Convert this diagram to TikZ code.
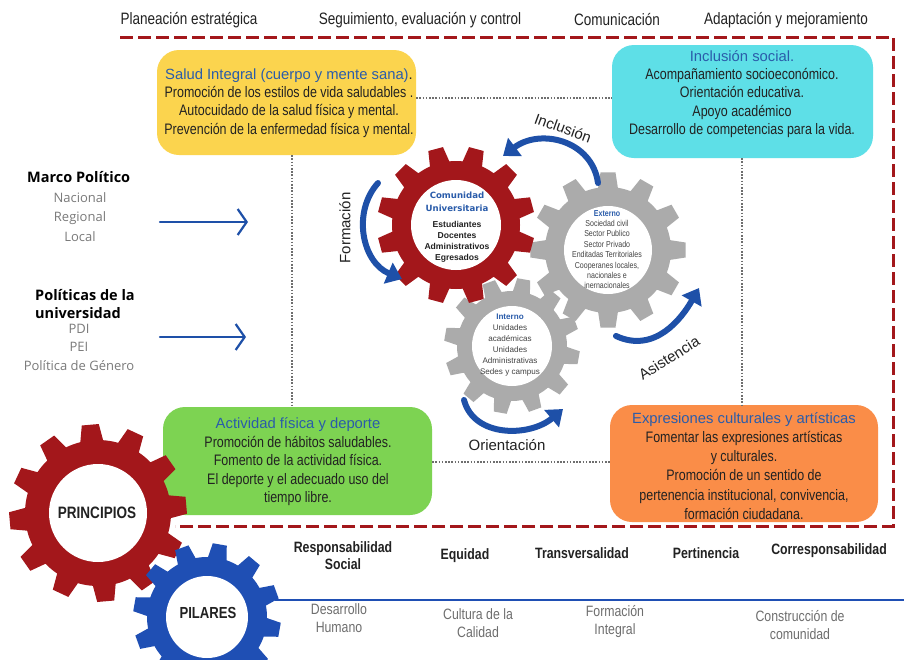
\documentclass[tikz,border=0pt]{standalone}
\usepackage{fontspec}
\setmainfont{Liberation Sans}
\newfontfamily\narrowfont[FakeStretch=0.82]{Liberation Sans}
\newfontfamily\opensans{Open Sans}
\newfontfamily\dejavu{DejaVu Sans}
\usetikzlibrary{arrows.meta}
\definecolor{dred}{HTML}{A3171B}
\definecolor{ggray}{HTML}{ABABAB}
\definecolor{gblue}{HTML}{1F4FB4}
\definecolor{ablue}{HTML}{1E50A8}
\definecolor{tblue}{HTML}{2A5CAA}
\definecolor{dotgray}{HTML}{6E6E6E}
\definecolor{byellow}{HTML}{FBD44E}
\definecolor{bcyan}{HTML}{5EDFE7}
\definecolor{bgreen}{HTML}{7DD352}
\definecolor{borange}{HTML}{FA8D48}
\definecolor{txtgray}{HTML}{7A7A7A}
\definecolor{txtdark}{HTML}{222222}
% cx, cy, N, Ro, Rb, Rw, offset, colour
\newcommand\drawgear[8]{%
  \begin{scope}[shift={(#1,#2)}]
    \pgfmathsetmacro\gStep{360/#3}
    \pgfmathsetmacro\gTop{5.5}
    \pgfmathsetmacro\gBase{9}
    \fill[#8] ({#7-\gBase}:#5)
      \foreach \k in {1,...,#3}{
        -- ({(\k-1)*\gStep+#7-\gBase}:#5)
        -- ({(\k-1)*\gStep+#7-\gTop}:#4)
        -- ({(\k-1)*\gStep+#7+\gTop}:#4)
        -- ({(\k-1)*\gStep+#7+\gBase}:#5)
        arc[start angle={(\k-1)*\gStep+#7+\gBase}, end angle={\k*\gStep+#7-\gBase}, radius=#5]
      } -- cycle;
    \fill[white] (0,0) circle[radius=#6];
  \end{scope}}
\newcommand\boxtitle[1]{{\normalfont\fontsize{14.8}{18.3}\selectfont\color{tblue}#1}}
\tikzset{
  reddash/.style={draw=dred, line width=3pt, dash pattern=on 13pt off 5pt},
  dotline/.style={draw=dotgray, line width=2.2pt, dash pattern=on 1.6pt off 1.6pt},
  rbox/.style={rounded corners=22pt, inner sep=0pt},
  boxtxt/.style={align=center, inner sep=0pt, text=txtdark, font=\narrowfont\fontsize{15.2}{18.3}\selectfont},
  hdr/.style={inner sep=0pt, text=txtdark, font=\narrowfont\fontsize{16.5}{18}\selectfont},
  boldrow/.style={align=center, inner sep=0pt, text=txtdark, font=\narrowfont\bfseries\fontsize{15}{17}\selectfont},
  grayrow/.style={align=center, inner sep=0pt, text=txtgray!90!black, font=\narrowfont\fontsize{15}{18}\selectfont},
  bluearrow/.style={draw=ablue, line width=6pt, line cap=round, -{Triangle[length=15pt,width=22pt]}},
  handarrow/.style={draw=ablue, line width=2.2pt, line cap=round, -{Straight Barb[length=9pt,width=26pt,line width=2.2pt]}},
  arrlabel/.style={inner sep=0pt, text=txtdark, font=\fontsize{15}{17}\selectfont},
  leftbold/.style={inner sep=0pt, align=left, text=black, font=\opensans\bfseries\fontsize{14.5}{18}\selectfont},
  leftgray/.style={inner sep=0pt, align=center, text=txtgray, font=\opensans\fontsize{13}{19.5}\selectfont},
}
\begin{document}
\begin{tikzpicture}[x=1pt,y=-1pt]
\useasboundingbox (0,0) rectangle (904,659);
\fill[white] (0,0) rectangle (904,659);

% header
\node[hdr] (h1) at (189,20) {Planeación estratégica};
\node[hdr] (h2) at (420,20) {Seguimiento, evaluación y control};
\node[hdr] (h3) at (617,20) {Comunicación};
\node[hdr] (h4) at (786,20) {Adaptación y mejoramiento};

% red dashed frame
\coordinate (d1) at (120,37);
\coordinate (d2) at (893,37);
\coordinate (d3) at (893,526);
\coordinate (d4) at (175,526);
\draw[reddash] (d1) -- (d2) -- (d3) -- (d4);

% boxes
\node[rbox, fill=byellow, minimum width=259pt, minimum height=105pt] (yb) at (286.5,102.5) {};
\node[rbox, fill=bcyan, minimum width=261pt, minimum height=113pt] (cb) at (742.5,101.5) {};
\node[rbox, fill=bgreen, minimum width=269pt, minimum height=108pt] (gb) at (297.5,461) {};
\node[rbox, fill=borange, minimum width=268pt, minimum height=117pt] (ob) at (744,463.5) {};

% dotted connections
\draw[dotline] (yb.east |- 0,98) -- (cb.west |- 0,98);
\draw[dotline] (gb.east |- 0,462) -- (ob.west |- 0,462);
\draw[dotline] (yb.south -| 292,0) -- (gb.north -| 292,0);
\draw[dotline] (cb.south -| 742,0) -- (ob.north -| 742,0);

% box texts
\node[boxtxt] (yt) at (289,103) {\boxtitle{Salud Integral (cuerpo y mente sana)}{\normalfont\fontsize{14.8}{18.3}\selectfont.}\\Promoción de los estilos de vida saludables .\\Autocuidado de la salud física y mental.\\Prevención de la enfermedad física y mental.};
\node[boxtxt] (ct) at (742,94) {\boxtitle{Inclusión social.}\\Acompañamiento socioeconómico.\\Orientación educativa.\\Apoyo académico\\Desarrollo de competencias para la vida.};
\node[boxtxt, font=\narrowfont\fontsize{15.2}{18.5}\selectfont] (gt) at (298,462) {\boxtitle{Actividad física y deporte}\\Promoción de hábitos saludables.\\Fomento de la actividad física.\\El deporte y el adecuado uso del\\tiempo libre.};
\node[boxtxt, font=\narrowfont\fontsize{15.2}{19.2}\selectfont] (ot) at (744,466) {\boxtitle{Expresiones culturales y artísticas}\\Fomentar las expresiones artísticas\\y culturales.\\Promoción de un sentido de\\pertenencia institucional, convivencia,\\formación ciudadana.};

% central gears
\drawgear{608}{250}{12}{78}{63}{44}{0}{ggray}
\drawgear{512}{346}{12}{68}{55}{40}{10}{ggray}
\drawgear{456}{225}{12}{79}{64}{45}{15}{dred}

\node[align=center, inner sep=0pt, text=tblue, font=\dejavu\bfseries\fontsize{8.6}{13}\selectfont] (cu) at (457,201.5) {Comunidad\\Universitaria};
\node[align=center, inner sep=0pt, text=txtdark, font=\bfseries\fontsize{8.6}{11}\selectfont] (cul) at (457,242) {Estudiantes\\Docentes\\Administrativos\\Egresados};
\node[align=center, inner sep=0pt, text=txtdark!85, font=\narrowfont\fontsize{8.6}{10.4}\selectfont] (ext) at (607,249.5) {{\bfseries\color{tblue}Externo}\\Sociedad civil\\Sector Publico\\Sector Privado\\Enditadas Territoriales\\Cooperanes locales,\\nacionales e\\inernacionales};
\node[align=center, inner sep=0pt, text=txtdark!85, font=\fontsize{8.1}{11}\selectfont] (int) at (510,345.5) {{\bfseries\color{tblue}Interno}\\Unidades\\académicas\\Unidades\\Administrativas\\Sedes y campus};

% curved arrows
\coordinate (ia) at (598,183);
\coordinate (ib) at (503,156);
\draw[bluearrow] (ia) .. controls (592,140) and (540,128) .. (ib);
\coordinate (fa) at (378,183);
\coordinate (fb) at (402,279);
\draw[bluearrow] (fa) .. controls (352,212) and (362,262) .. (fb);
\coordinate (aa) at (616,336);
\coordinate (ab) at (699,288);
\draw[bluearrow] (aa) .. controls (655,354) and (682,318) .. (ab);
\coordinate (oa) at (464,400);
\coordinate (ob2) at (563,409);
\draw[bluearrow] (oa) .. controls (474,438) and (530,437) .. (ob2);

\node[arrlabel, rotate=-20] (li) at (563,128) {Inclusión};
\node[arrlabel, rotate=90] (lf) at (345,228) {Formación};
\node[arrlabel, rotate=32] (la) at (669,358) {Asistencia};
\node[arrlabel] (lo) at (507,445) {Orientación};

% left column
\node[leftbold, anchor=west] (mp) at (27,177) {Marco Político};
\node[leftgray] (mpl) at (80,217) {Nacional\\Regional\\Local};
\node[leftbold, anchor=west] (pu) at (35,304) {Políticas de la\\universidad};
\node[leftgray, font=\opensans\fontsize{13}{18.5}\selectfont] (pul) at (79,347) {PDI\\PEI\\Política de Género};

\coordinate (m1a) at (160,222);
\coordinate (m1b) at (248,222);
\draw[handarrow] (m1a) -- (m1b);
\coordinate (m2a) at (160,337);
\coordinate (m2b) at (246,337);
\draw[handarrow] (m2a) -- (m2b);

% blue line
\coordinate (bl1) at (275,600);
\coordinate (bl2) at (904,600);
\draw[draw=gblue, line width=2.6pt] (bl1) -- (bl2);

% bottom gears
\drawgear{98}{513}{12}{89}{73}{49}{25}{dred}
\drawgear{207}{617}{12}{74}{60}{41}{10}{gblue}
\node[inner sep=0pt, text=txtdark, font=\narrowfont\bfseries\fontsize{16.5}{18}\selectfont] (pr) at (97,513) {PRINCIPIOS};
\node[inner sep=0pt, text=txtdark, font=\narrowfont\bfseries\fontsize{16}{18}\selectfont] (pi) at (208,613) {PILARES};

% bottom rows
\node[boldrow] (r1) at (343,556) {Responsabilidad\\Social};
\node[boldrow] (r2) at (465,556) {Equidad};
\node[boldrow] (r3) at (582,553) {Transversalidad};
\node[boldrow] (r4) at (706,553) {Pertinencia};
\node[boldrow] (r5) at (829,551) {Corresponsabilidad};
\node[grayrow] (p1) at (339,618) {Desarrollo\\Humano};
\node[grayrow] (p2) at (478,623) {Cultura de la\\Calidad};
\node[grayrow] (p3) at (615,622) {Formación\\Integral};
\node[grayrow] (p4) at (800,625) {Construcción de\\comunidad};
\end{tikzpicture}
\end{document}
